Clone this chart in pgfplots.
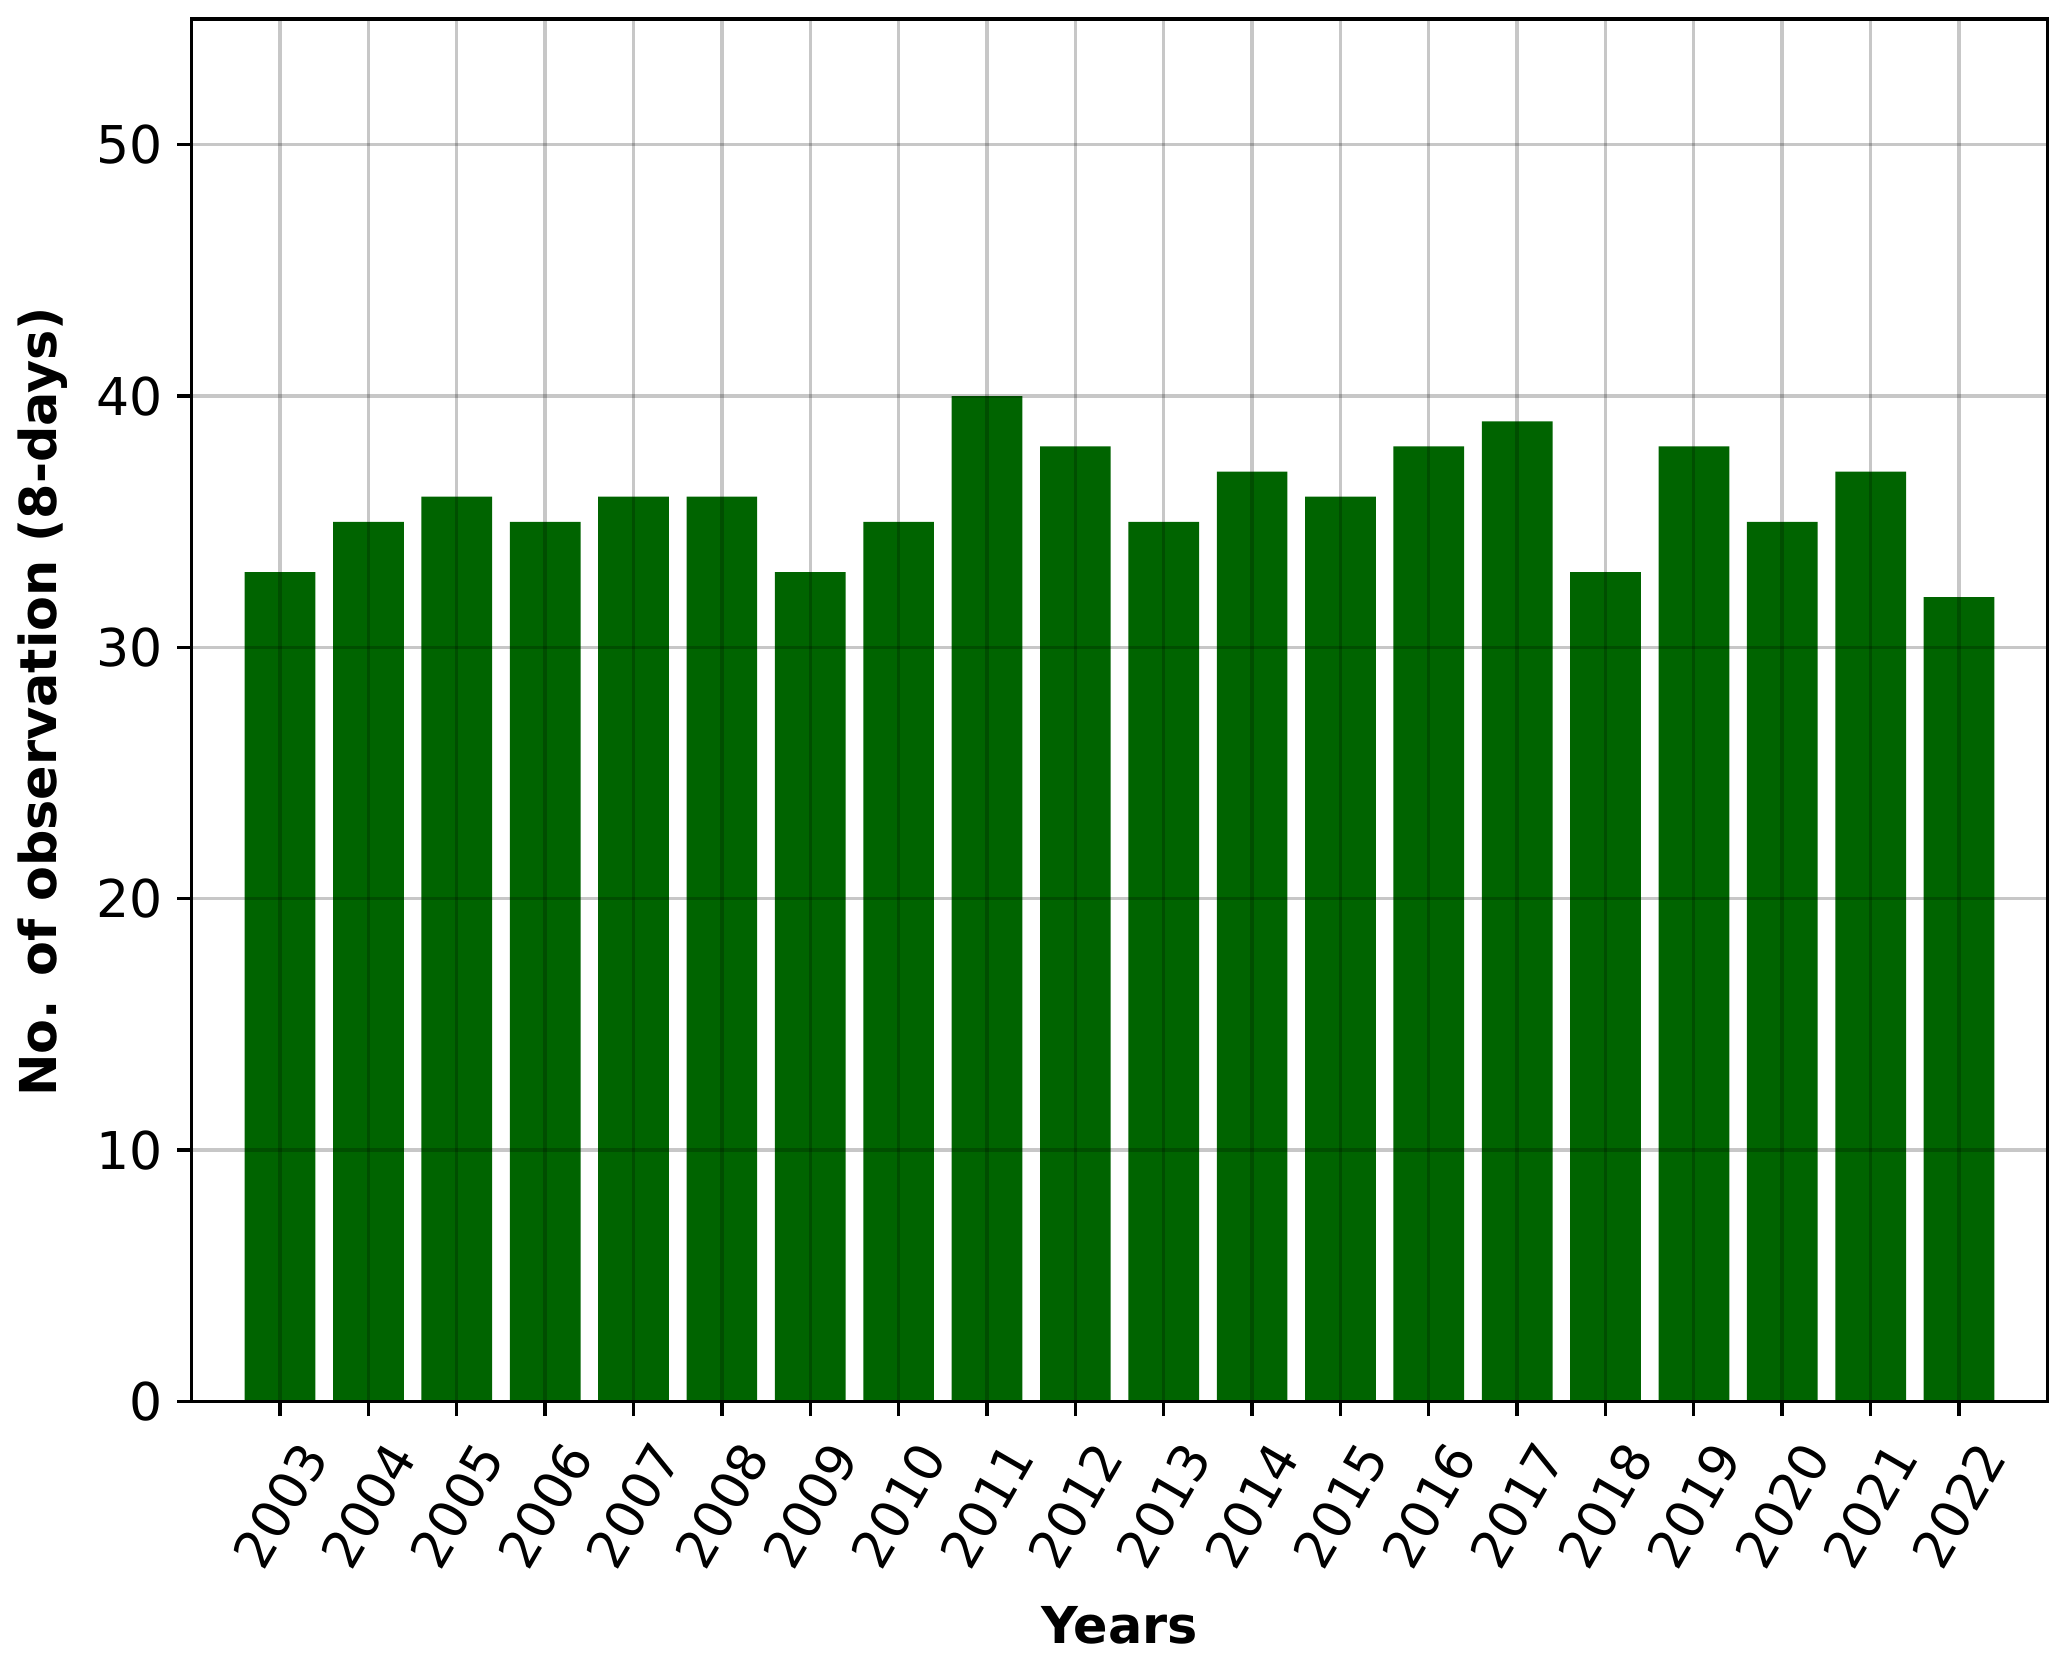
\documentclass[border=0pt]{standalone}
\usepackage{pgfplots}
\pgfplotsset{compat=1.18}
\usepackage{fontspec}
\setmainfont{DejaVu Sans}
\definecolor{dgreen}{RGB}{0,100,0}
\pgfplotstableread{
year val
2003 33
2004 35
2005 36
2006 35
2007 36
2008 36
2009 33
2010 35
2011 40
2012 38
2013 35
2014 37
2015 36
2016 38
2017 39
2018 33
2019 38
2020 35
2021 37
2022 32
}\datatable
\begin{document}
\begin{tikzpicture}
\useasboundingbox (-46pt,-61.8pt) rectangle (450pt,336.3pt);
\begin{axis}[
  at={(0,0)}, anchor=south west,
  scale only axis, width=445.3pt, height=331.7pt,
  xmin=2002, xmax=2023, ymin=0, ymax=55,
  ytick={0,10,20,30,40,50},
  xtick={2003,2004,...,2022},
  xticklabel style={/pgf/number format/1000 sep=, yshift=-21.4pt, rotate=60, anchor=center},
  /pgf/number format/assume math mode=true,
  tick label style={font=\fontsize{12.5}{15}\selectfont},
  label style={font=\fontsize{12.2}{15}\selectfont\bfseries},
  xlabel={Years}, ylabel={No. of observation (8-days)},
  ylabel style={xshift=2pt},
  tick align=outside, major tick length=3.5pt,
  every tick/.style={black, line width=0.8pt},
  xtick pos=bottom, ytick pos=left,
  axis line style={line width=0.8pt},
  grid=major, major grid style={black, opacity=0.22, line width=0.8pt},
  axis on top,
  ybar, bar width=0.8,
]
\addplot[fill=dgreen, draw=none, bar shift=0pt] table[x=year, y=val] {\datatable};
\end{axis}
\end{tikzpicture}
\end{document}
